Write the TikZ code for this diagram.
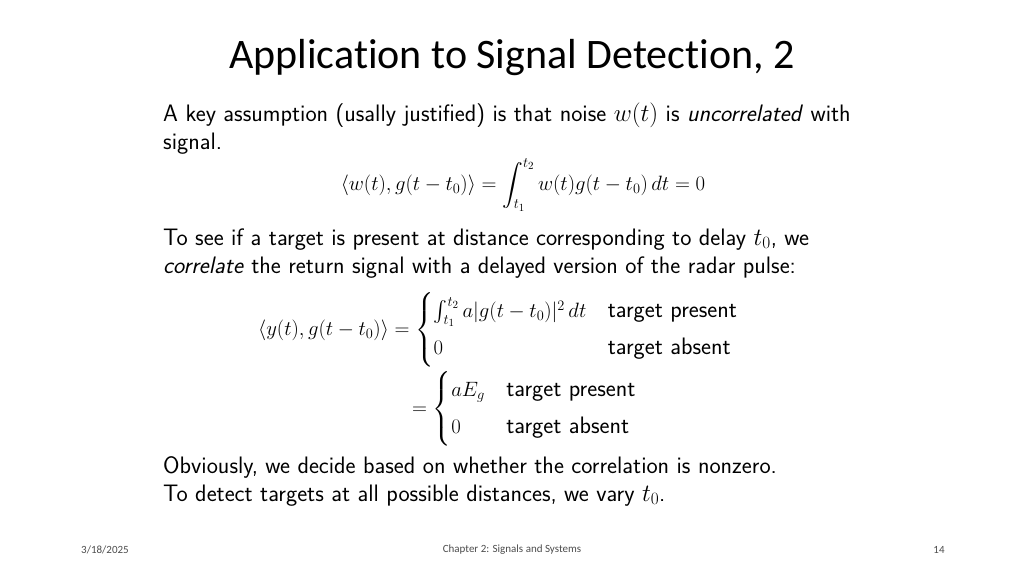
\documentclass[tikz,border=0pt]{standalone}
\usepackage{amsmath}
\usepackage{fontspec}
\newfontfamily\titlefont[Ligatures=NoCommon]{Carlito}
\tikzset{body/.style={anchor=base west,inner sep=0pt,font=\fontsize{23.8}{28}\sffamily},
 eq/.style={inner sep=0pt,font=\fontsize{21.5}{26}\selectfont},
 foot/.style={inner sep=0pt,font=\fontsize{11}{13}\titlefont,text=black!70}}
\begin{document}
\begin{tikzpicture}[x=1pt,y=-1pt]
\useasboundingbox (0,0) rectangle (1024,576);
\node[inner sep=0pt,font=\fontsize{42}{46}\titlefont] (title) at (512,58) {Application to Signal Detection, 2};
\node[body] (l1) at (163,121) {A key assumption (usally justified) is that noise $w(t)$ is \textit{uncorrelated} with};
\node[body] (l2) at (163,149) {signal.};
\node[eq] (e1) at (523,185) {$\displaystyle \langle w(t), g(t-t_0)\rangle = \int_{t_1}^{t_2} w(t)g(t-t_0)\,dt = 0$};
\node[body] (l3) at (163,245) {To see if a target is present at distance corresponding to delay $t_0$, we};
\node[body] (l4) at (163,273) {\textit{correlate} the return signal with a delayed version of the radar pulse:};
\node[eq,anchor=west] (e2) at (258,330) {$\displaystyle \langle y(t), g(t-t_0)\rangle = \begin{cases} \int_{t_1}^{t_2} a|g(t-t_0)|^2\,dt & \text{\fontsize{23.8}{28}\sffamily target present}\\[6pt] 0 & \text{\fontsize{23.8}{28}\sffamily target absent}\end{cases}$};
\node[eq,anchor=west] (e3) at (412,409) {$\displaystyle = \begin{cases} aE_g & \text{\fontsize{23.8}{28}\sffamily target present}\\[6pt] 0 & \text{\fontsize{23.8}{28}\sffamily target absent}\end{cases}$};
\node[body] (l5) at (163,473) {Obviously, we decide based on whether the correlation is nonzero.};
\node[body] (l6) at (163,501) {To detect targets at all possible distances, we vary $t_0$.};
\node[foot] (date) at (105,550) {3/18/2025};
\node[foot] (chap) at (512,550) {Chapter 2: Signals and Systems};
\node[foot] (page) at (939,550) {14};
\end{tikzpicture}
\end{document}
